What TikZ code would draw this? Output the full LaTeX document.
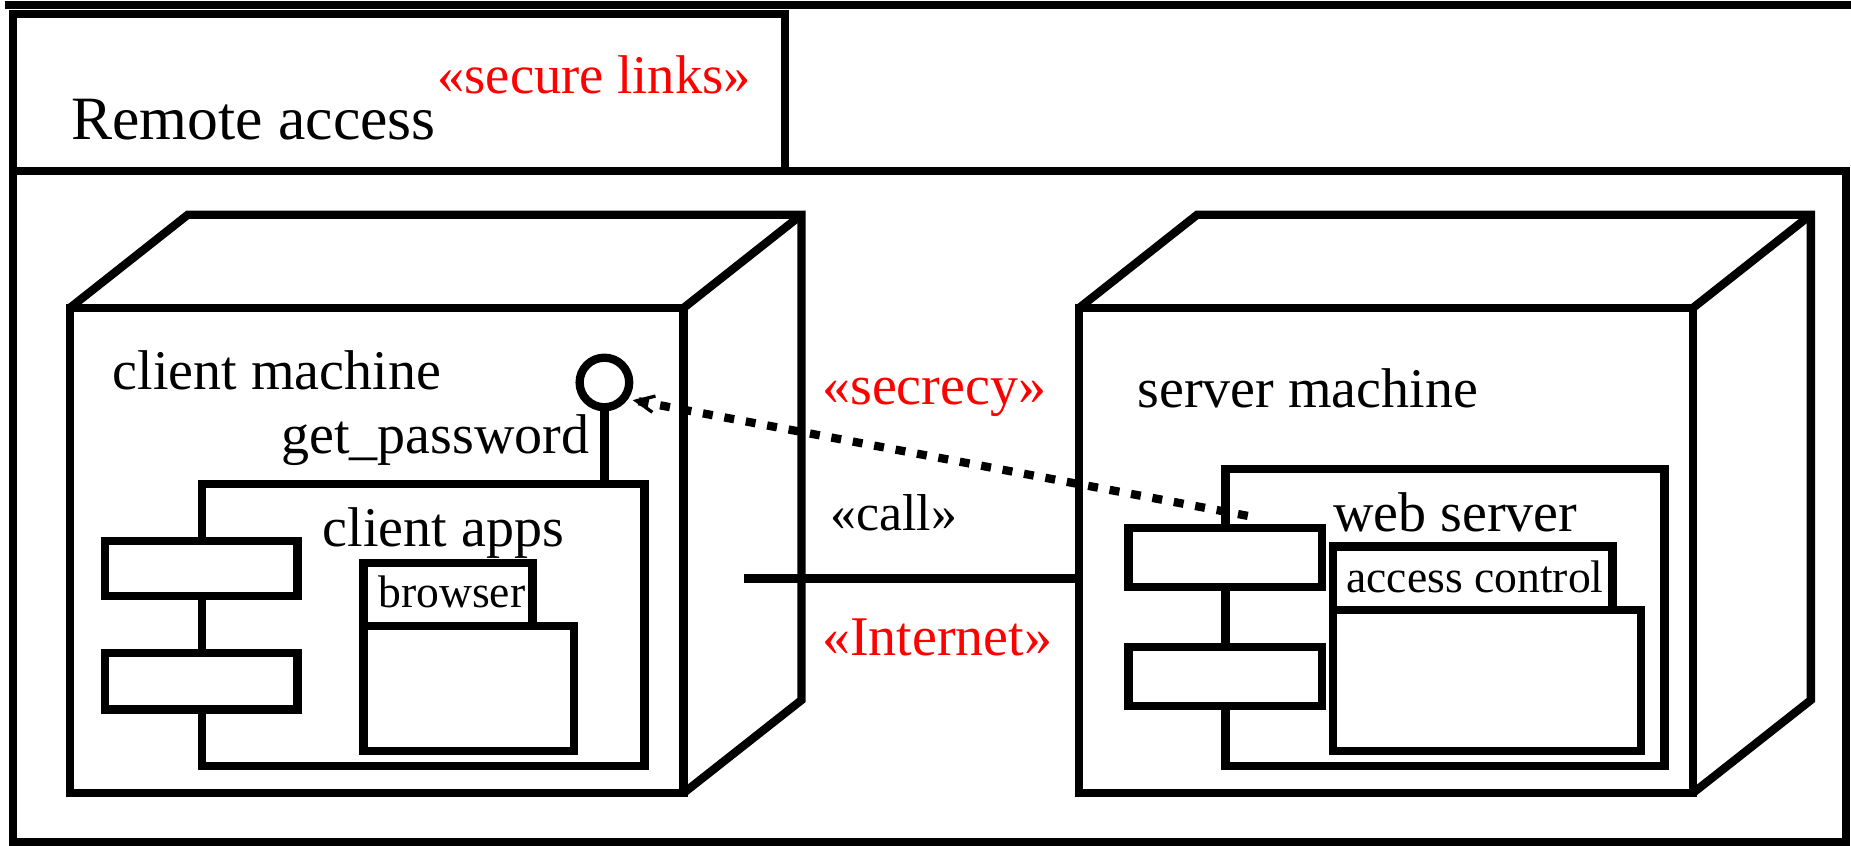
\documentclass[tikz,border=0pt]{standalone}
\usepackage{fontspec}
\setmainfont{Liberation Serif}
\usetikzlibrary{arrows.meta}

\tikzset{
  box/.style={draw, fill=white, inner sep=0pt, outer sep=0pt, anchor=north west},
  txt/.style={anchor=base west, inner sep=0pt, font=\fontsize{27}{30}\selectfont},
  smalltxt/.style={anchor=base west, inner sep=0pt, font=\fontsize{22}{24}\selectfont},
  stereo/.style={txt, text=red},
  depline/.style={line width=4pt, dash pattern=on 4.8pt off 5.7pt,
    -{Straight Barb[length=0.3cm, width=0.28cm, line width=1.6pt]}, shorten >=0.16cm},
}

\begin{document}
\begin{tikzpicture}[x=0.02cm, y=-0.02cm, line width=4pt]
    \useasboundingbox (0,0) rectangle (1568,716);

    % outer frame and name tab
    \draw (4,4) -- (1568,4);
    \draw (11,145) rectangle (1564,713);
    \draw (11,12) rectangle (665,145);
    \node[txt, font=\fontsize{29.7}{33}\selectfont] (title) at (57,118) {Remote access};
    \node[stereo, font=\fontsize{26.3}{29}\selectfont] (linkstereo) at (367,79) {«secure links»};

    % client machine
    \node[box, minimum width=10.4cm, minimum height=8.22cm] (client) at (59,261) {};
    \draw (client.north west) -- ++(100,-79) -- ++(520,0) -- ++(0,411) -- (client.south east);
    \draw (client.north east) -- ++(100,-79);
    \node[txt] (clientname) at (92,330) {client machine};

    \node[box, minimum width=7.5cm, minimum height=4.78cm] (apps) at (171,410) {};
    \node[box, minimum width=3.26cm, minimum height=0.94cm] (appsport1) at (89,458) {};
    \node[box, minimum width=3.26cm, minimum height=0.96cm] (appsport2) at (89,553) {};
    \node[txt] (appsname) at (270,463) {client apps};
    \node[box, minimum width=2.86cm, minimum height=1.06cm] (browsertab) at (308,477) {};
    \node[box, minimum width=3.56cm, minimum height=2.12cm] (browser) at (308,530) {};
    \node[smalltxt] (browsername) at (317,515) {browser};

    \node[draw, circle, minimum size=0.84cm, inner sep=0pt, outer sep=0pt] (pw) at (512,324) {};
    \draw (pw.south) -- (pw.south |- apps.north);
    \node[txt] (pwname) at (235,384) {get\_password};

    % server machine
    \node[box, minimum width=10.4cm, minimum height=8.22cm] (server) at (914,261) {};
    \draw (server.north west) -- ++(100,-79) -- ++(520,0) -- ++(0,411) -- (server.south east);
    \draw (server.north east) -- ++(100,-79);
    \node[txt] (servername) at (960,345) {server machine};

    \node[box, minimum width=7.44cm, minimum height=5.04cm] (web) at (1038,397) {};
    \node[box, minimum width=3.28cm, minimum height=1.0cm] (webport1) at (956,447) {};
    \node[box, minimum width=3.28cm, minimum height=1.0cm] (webport2) at (956,548) {};
    \node[txt] (webname) at (1126,450) {web server};
    \node[box, minimum width=4.74cm, minimum height=1.08cm] (accesstab) at (1129,463) {};
    \node[box, minimum width=5.22cm, minimum height=2.38cm] (access) at (1129,517) {};
    \node[smalltxt] (accessname) at (1137,502) {access control};

    % communication link and dependency
    \coordinate (linkend) at (630,490);
    \draw (linkend) -- (linkend -| server.west);
    \node[stereo] (secrecy) at (693,343) {«secrecy»};
    \node[txt, font=\fontsize{25}{28}\selectfont] (call) at (700,449) {«call»};
    \node[stereo] (internet) at (693,555) {«Internet»};

    \coordinate (depstart) at (1057,437);
    \draw[depline] (depstart) -- (pw.-40);
\end{tikzpicture}
\end{document}
